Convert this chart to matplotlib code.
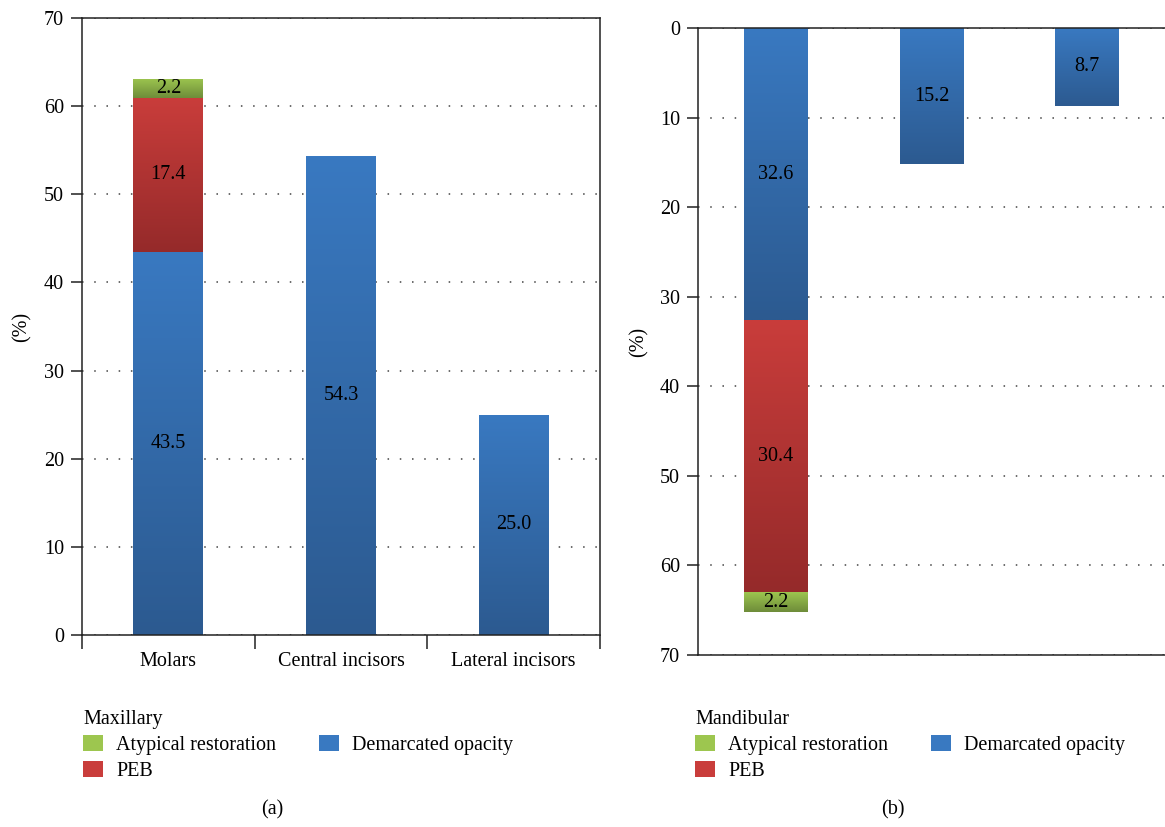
import numpy as np
import matplotlib
matplotlib.use('Agg')
import matplotlib.pyplot as plt
from matplotlib.colors import LinearSegmentedColormap
from matplotlib.patches import Patch

plt.rcParams['font.family'] = ['Liberation Serif', 'DejaVu Serif']
plt.rcParams['font.size'] = 14.5

#data
categories = ['Molars', 'Central incisors', 'Lateral incisors']
series = ['Demarcated opacity', 'PEB', 'Atypical restoration']
max_demarcated = [43.5, 54.3, 25.0]
max_peb = [17.4, 0.0, 0.0]
max_atypical = [2.2, 0.0, 0.0]
man_demarcated = [32.6, 15.2, 8.7]
man_peb = [30.4, 0.0, 0.0]
man_atypical = [2.2, 0.0, 0.0]

#gradient colours per series (top of bar, bottom of bar)
grad = {
    'Demarcated opacity': ('#3979c1', '#2c5a90'),
    'PEB': ('#c93d3b', '#952a2a'),
    'Atypical restoration': ('#9dc64f', '#6e8c3a'),
}
grid_style = dict(color='#444444', linestyle=(0, (1, 7)), linewidth=1.1)
spine_col = '#222222'

W, H = 1165, 827
fig = plt.figure(figsize=(W / 100, H / 100), dpi=100)
ax1 = fig.add_axes([82 / W, 1 - 635 / H, 518 / W, 617 / H])
ax2 = fig.add_axes([698 / W, 1 - 655 / H, 467 / W, 627 / H])


def draw_panel(ax, stacks, width, inverted):
    x = np.arange(len(categories))
    bottom = np.zeros(len(categories))
    for name, vals in zip(series, stacks):
        vals = np.array(vals)
        top, bot = grad[name]
        cmap = LinearSegmentedColormap.from_list(name, [top, bot])
        bars = ax.bar(x, vals, width, bottom=bottom, color=bot, zorder=2,
                      linewidth=0)
        for b, v in zip(bars, vals):
            if v <= 0:
                continue
            bx, by, bw, bh = b.get_x(), b.get_y(), b.get_width(), b.get_height()
            # row 0 of the image is the light colour, sitting on screen top
            scr_top = by if inverted else by + bh
            scr_bot = by + bh if inverted else by
            im = ax.imshow(np.linspace(0, 1, 256).reshape(-1, 1), cmap=cmap,
                           extent=(bx, bx + bw, scr_bot, scr_top),
                           origin='upper', aspect='auto', zorder=2.1)
            im.set_clip_path(b)
            ax.text(bx + bw / 2, by + bh / 2, '{:.1f}'.format(v),
                    ha='center', va='center', zorder=3)
        bottom = bottom + vals
    ax.set_xlim(-0.5, len(categories) - 0.5)
    ax.set_yticks(range(0, 71, 10))
    ax.set_axisbelow(True)
    ax.yaxis.grid(True, **grid_style)
    ax.tick_params(axis='y', direction='out', length=8, width=1.1, pad=5,
                   color=spine_col)
    ax.set_ylabel('(%)')
    for s in ax.spines.values():
        s.set_color(spine_col)
        s.set_linewidth(1.1)


#Part a: maxillary
draw_panel(ax1, [max_demarcated, max_peb, max_atypical], 0.405, False)
ax1.set_ylim(0, 70)
ax1.set_xticks(np.arange(len(categories) + 1) - 0.5)
ax1.set_xticklabels([])
ax1.set_xticks(np.arange(len(categories)), minor=True)
ax1.set_xticklabels(categories, minor=True)
ax1.tick_params(axis='x', which='major', direction='out', length=10,
                width=1.1, color=spine_col)
ax1.tick_params(axis='x', which='minor', length=0, pad=12)
ax1.yaxis.set_label_coords(-0.097, 0.5)

#Part b: mandibular
draw_panel(ax2, [man_demarcated, man_peb, man_atypical], 0.41, True)
ax2.set_ylim(70, 0)
ax2.set_xticks([])
ax2.spines['right'].set_visible(False)
ax2.yaxis.set_label_coords(-0.106, 0.5)

#legends
order = ['Atypical restoration', 'PEB', 'Demarcated opacity']
handles = [Patch(facecolor=grad[n][0], edgecolor='none') for n in order]
leg_kw = dict(loc='upper left', ncol=2, frameon=False, borderpad=0,
              handlelength=1.0, handleheight=0.85, handletextpad=0.65,
              columnspacing=2.1, labelspacing=0.3, alignment='left',
              title_fontsize=14.5)
fig.legend(handles, order, title='Maxillary',
           bbox_to_anchor=(73 / W, 1 - 700 / H), **leg_kw)
fig.legend(handles, order, title='Mandibular',
           bbox_to_anchor=(685 / W, 1 - 700 / H), **leg_kw)

fig.text(272 / W, 1 - 810 / H, '(a)', ha='center', va='center')
fig.text(893 / W, 1 - 810 / H, '(b)', ha='center', va='center')

fig.savefig('out.png', dpi=100)
